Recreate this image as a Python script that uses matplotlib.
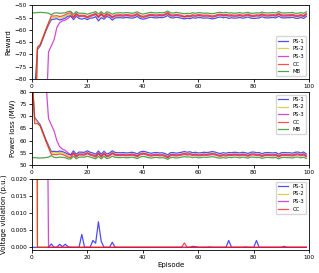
import numpy as np
import matplotlib.pyplot as plt

episodes = np.arange(100)

# power loss (MW) per episode
loss_ps1 = [85.0, 69.5, 68.0, 66.5, 63.5, 60.5, 58.0, 55.5, 55.6, 55.4, 55.7, 55.5,
            55.0, 54.4, 54.2, 55.8, 54.4, 55.3, 55.2, 55.2, 55.8, 55.2, 54.9, 54.4, 55.7, 54.4, 55.6, 54.5, 54.9, 55.8,
            55.1, 55.0, 55.0, 55.1, 54.9, 55.0, 55.2, 55.0, 54.5, 55.3, 55.6, 55.4, 55.0, 54.8, 55.0, 55.1, 54.9, 55.0, 54.7, 54.1,
            55.0, 55.1, 54.8, 55.0, 55.2, 55.5, 55.2, 55.4, 55.0, 55.2, 54.9, 55.0, 55.2, 55.1, 55.2, 55.5, 55.3, 54.9, 54.7, 55.0,
            54.8, 55.1, 55.0, 55.2, 55.1, 54.9, 55.2, 55.0, 54.7, 55.2, 55.3, 55.0, 55.1, 54.6, 55.0, 55.1, 55.0, 54.9, 55.1, 54.4,
            55.0, 55.1, 55.0, 55.0, 54.8, 55.2, 55.3, 54.9, 55.3, 54.5]
loss_ps2 = [88.0, 69.0, 67.5, 66.0, 63.0, 60.0, 57.5, 55.0, 55.0, 54.9, 55.1, 55.0,
            54.4, 53.8, 53.6, 55.2, 53.8, 54.7, 54.6, 54.6, 55.2, 54.6, 54.3, 53.8, 55.1, 53.8, 55.0, 53.9, 54.3, 55.2,
            54.5, 54.4, 54.4, 54.5, 54.3, 54.4, 54.6, 54.4, 53.9, 54.7, 55.0, 54.8, 54.4, 54.2, 54.4, 54.5, 54.3, 54.4, 54.1, 53.5,
            54.4, 54.5, 54.2, 54.4, 54.6, 54.9, 54.6, 54.8, 54.4, 54.6, 54.3, 54.4, 54.6, 54.5, 54.6, 54.9, 54.7, 54.3, 54.1, 54.4,
            54.2, 54.5, 54.4, 54.6, 54.5, 54.3, 54.6, 54.4, 54.1, 54.6, 54.7, 54.4, 54.5, 54.0, 54.4, 54.5, 54.4, 54.3, 54.5, 53.8,
            54.4, 54.5, 54.4, 54.4, 54.2, 54.6, 54.7, 54.3, 54.7, 53.9]
loss_ps3 = [120.0, 110.0, 100.0, 95.0, 90.0, 85.0, 69.0, 66.5, 64.0, 60.0, 57.5, 56.5,
            56.0, 55.0, 54.0, 55.0, 53.6, 54.5, 54.4, 54.4, 55.0, 54.4, 54.1, 53.6, 54.9, 53.6, 54.8, 53.7, 54.1, 55.0,
            54.3, 54.2, 54.2, 54.3, 54.1, 54.2, 54.4, 54.2, 53.7, 54.5, 54.8, 54.6, 54.2, 54.0, 54.2, 54.3, 54.1, 54.2, 53.9, 53.3,
            54.2, 54.3, 54.0, 54.2, 54.4, 54.7, 54.4, 54.6, 54.2, 54.4, 54.1, 54.2, 54.4, 54.3, 54.4, 54.7, 54.5, 54.1, 53.9, 54.2,
            54.0, 54.3, 54.2, 54.4, 54.3, 54.1, 54.4, 54.2, 53.9, 54.4, 54.5, 54.2, 54.3, 53.8, 54.2, 54.3, 54.2, 54.1, 54.3, 53.6,
            54.2, 54.3, 54.2, 54.2, 54.0, 54.4, 54.5, 54.1, 54.5, 53.7]
loss_cc = [90.0, 67.0, 67.0, 66.0, 63.0, 60.0, 57.0, 54.3, 54.3, 54.2, 54.5, 54.3,
           53.8, 53.2, 53.0, 54.6, 53.2, 54.1, 54.0, 54.0, 54.6, 54.0, 53.7, 53.2, 54.5, 53.2, 54.4, 53.3, 53.7, 54.6,
           53.9, 53.8, 53.8, 53.9, 53.7, 53.8, 54.0, 53.8, 53.3, 54.1, 54.4, 54.2, 53.8, 53.6, 53.8, 53.9, 53.7, 53.8, 53.5, 52.9,
           53.8, 53.9, 53.6, 53.8, 54.0, 54.3, 54.0, 54.2, 53.8, 54.0, 53.7, 53.8, 54.0, 53.9, 54.0, 54.3, 54.1, 53.7, 53.5, 53.8,
           53.6, 53.9, 53.8, 54.0, 53.9, 53.7, 54.0, 53.8, 53.5, 54.0, 54.1, 53.8, 53.9, 53.4, 53.8, 53.9, 53.8, 53.7, 53.9, 53.2,
           53.8, 53.9, 53.8, 53.8, 53.6, 54.0, 54.1, 53.7, 54.1, 53.3]
loss_mb = [53.0, 53.0, 52.9, 52.8, 52.9, 53.0, 53.2, 53.8, 53.1, 53.0, 53.2, 53.1,
           53.0, 52.5, 52.4, 53.6, 52.5, 53.2, 53.2, 53.2, 53.6, 53.2, 52.9, 52.5, 53.5, 52.5, 53.5, 52.6, 52.9, 53.6,
           53.1, 53.0, 53.0, 53.1, 52.9, 53.0, 53.2, 53.0, 52.6, 53.2, 53.5, 53.3, 53.0, 52.8, 53.0, 53.1, 52.9, 53.0, 52.8, 52.3,
           53.0, 53.1, 52.8, 53.0, 53.2, 53.4, 53.2, 53.3, 53.0, 53.2, 52.9, 53.0, 53.2, 53.1, 53.2, 53.4, 53.2, 52.9, 52.8, 53.0,
           52.8, 53.1, 53.0, 53.2, 53.1, 52.9, 53.2, 53.0, 52.8, 53.2, 53.2, 53.0, 53.1, 52.7, 53.0, 53.1, 53.0, 52.9, 53.1, 52.5,
           53.0, 53.1, 53.0, 53.0, 52.8, 53.2, 53.2, 52.9, 53.2, 52.6]

# reward per episode
rew_ps1 = [-130.0, -85.0, -68.0, -66.5, -63.5, -60.5, -58.0, -55.8, -55.6, -55.4, -55.9, -55.6,
           -55.2, -54.4, -54.2, -55.8, -54.4, -55.3, -55.6, -55.2, -55.8, -55.2, -55.1, -54.6, -56.3, -55.0, -55.6, -54.5, -54.9, -56.0,
           -55.1, -55.0, -55.0, -55.1, -54.9, -55.0, -55.2, -55.0, -54.5, -55.3, -55.6, -55.4, -55.0, -54.8, -55.0, -55.1, -54.9, -55.0, -54.7, -54.1,
           -55.0, -55.1, -54.8, -55.0, -55.2, -55.5, -55.2, -55.4, -55.0, -55.2, -54.9, -55.0, -55.2, -55.1, -55.2, -55.5, -55.3, -54.9, -54.7, -55.0,
           -54.8, -55.3, -55.0, -55.2, -55.1, -54.9, -55.2, -55.0, -54.7, -55.2, -55.3, -55.2, -55.1, -54.6, -55.0, -55.1, -55.0, -54.9, -55.1, -54.4,
           -55.0, -55.1, -55.0, -55.0, -54.8, -55.2, -55.3, -54.9, -55.3, -54.5]
rew_ps2 = [-140.0, -110.0, -67.5, -66.0, -63.0, -60.0, -57.5, -55.0, -55.0, -54.9, -55.1, -55.0,
           -54.4, -53.8, -53.6, -55.2, -53.8, -54.7, -54.6, -54.6, -55.2, -54.6, -54.3, -53.8, -55.1, -53.8, -55.0, -53.9, -54.3, -55.2,
           -54.5, -54.4, -54.4, -54.5, -54.3, -54.4, -54.6, -54.4, -53.9, -54.7, -55.0, -54.8, -54.4, -54.2, -54.4, -54.5, -54.3, -54.4, -54.1, -53.5,
           -54.4, -54.5, -54.2, -54.4, -54.6, -54.9, -54.6, -54.8, -54.4, -54.6, -54.3, -54.4, -54.6, -54.5, -54.6, -54.9, -54.7, -54.3, -54.1, -54.4,
           -54.2, -54.5, -54.4, -54.6, -54.5, -54.3, -54.6, -54.4, -54.1, -54.6, -54.7, -54.4, -54.5, -54.0, -54.4, -54.5, -54.4, -54.3, -54.5, -53.8,
           -54.4, -54.5, -54.4, -54.4, -54.2, -54.6, -54.7, -54.3, -54.7, -53.9]
rew_ps3 = [-150.0, -140.0, -130.0, -120.0, -110.0, -100.0, -69.0, -66.5, -64.0, -59.0, -57.0, -56.3,
           -56.0, -55.3, -54.3, -55.0, -53.6, -54.5, -54.4, -54.4, -55.0, -54.4, -54.1, -53.6, -54.9, -53.6, -54.8, -53.7, -54.1, -55.0,
           -54.3, -54.2, -54.2, -54.3, -54.1, -54.2, -54.4, -54.2, -53.7, -54.5, -54.8, -54.6, -54.2, -54.0, -54.2, -54.3, -54.1, -54.2, -53.9, -53.3,
           -54.2, -54.3, -54.0, -54.2, -54.4, -54.7, -54.4, -54.6, -54.2, -54.4, -54.1, -54.2, -54.4, -54.3, -54.4, -54.7, -54.5, -54.1, -53.9, -54.2,
           -54.0, -54.3, -54.2, -54.4, -54.3, -54.1, -54.4, -54.2, -53.9, -54.4, -54.5, -54.2, -54.3, -53.8, -54.2, -54.3, -54.2, -54.1, -54.3, -53.6,
           -54.2, -54.3, -54.2, -54.2, -54.0, -54.4, -54.5, -54.1, -54.5, -53.7]
rew_cc = [-150.0, -120.0, -67.0, -66.0, -63.0, -60.0, -57.0, -54.3, -54.3, -54.2, -54.5, -54.3,
          -53.8, -53.2, -53.0, -54.6, -53.2, -54.1, -54.0, -54.0, -54.6, -54.0, -53.7, -53.2, -54.5, -53.2, -54.4, -53.3, -53.7, -54.6,
          -53.9, -53.8, -53.8, -53.9, -53.7, -53.8, -54.0, -53.8, -53.3, -54.1, -54.4, -54.2, -53.8, -53.6, -53.8, -53.9, -53.7, -53.8, -53.5, -52.9,
          -53.8, -53.9, -53.6, -53.8, -54.0, -54.5, -54.0, -54.2, -53.8, -54.0, -53.7, -53.8, -54.0, -53.9, -54.0, -54.3, -54.1, -53.7, -53.5, -53.8,
          -53.6, -53.9, -53.8, -54.0, -53.9, -53.7, -54.0, -53.8, -53.5, -54.0, -54.1, -53.8, -53.9, -53.4, -53.8, -53.9, -53.8, -53.7, -53.9, -53.2,
          -53.8, -53.9, -53.8, -53.8, -53.6, -54.0, -54.1, -53.7, -54.1, -53.3]
rew_mb = [-53.0, -53.0, -52.9, -52.8, -52.9, -53.0, -53.2, -53.8, -53.1, -53.0, -53.2, -53.1,
          -53.0, -52.5, -52.4, -53.6, -52.5, -53.2, -53.2, -53.2, -53.6, -53.2, -52.9, -52.5, -53.5, -52.5, -53.5, -52.6, -52.9, -53.6,
          -53.1, -53.0, -53.0, -53.1, -52.9, -53.0, -53.2, -53.0, -52.6, -53.2, -53.5, -53.3, -53.0, -52.8, -53.0, -53.1, -52.9, -53.0, -52.8, -52.3,
          -53.0, -53.1, -52.8, -53.0, -53.2, -53.4, -53.2, -53.3, -53.0, -53.2, -52.9, -53.0, -53.2, -53.1, -53.2, -53.4, -53.2, -52.9, -52.8, -53.0,
          -52.8, -53.1, -53.0, -53.2, -53.1, -52.9, -53.2, -53.0, -52.8, -53.2, -53.2, -53.0, -53.1, -52.7, -53.0, -53.1, -53.0, -52.9, -53.1, -52.5,
          -53.0, -53.1, -53.0, -53.0, -52.8, -53.2, -53.2, -52.9, -53.2, -52.6]

# voltage violation (p.u.), sparse: episode -> value, rest zero
volt_ps1_ep = [7, 10, 11, 12, 13, 18, 22, 23, 24, 25, 29, 58, 59, 64, 71, 77, 81, 91]
volt_ps1_val = [0.001, 0.0009, 0.0002, 0.0009, 0.0002, 0.0038, 0.002, 0.0012, 0.0075, 0.0018, 0.0015,
                0.0003, 0.0002, 0.0001, 0.002, 0.0001, 0.002, 0.0003]
volt_ps2_ep = [0, 1]
volt_ps2_val = [0.4, 0.2]
volt_ps3_ep = [0, 1, 2, 3, 4, 5]
volt_ps3_val = [0.5, 0.4, 0.3, 0.3, 0.2, 0.1]
volt_cc_ep = [0, 1, 55]
volt_cc_val = [0.5, 0.3, 0.0013]


def full(ep_list, val_list):
    v = np.zeros(len(episodes))
    v[ep_list] = val_list
    return v


labels = ['PS-1', 'PS-2', 'PS-3', 'CC', 'MB']
colors = ['b', 'y', 'm', 'r', 'g']
fs = 4.2   # ticks
lfs = 5    # axis labels
gfs = 3.8  # legend
a = 0.7

plt.rcParams['font.size'] = fs

fig = plt.figure(figsize=(3.19, 2.73), dpi=100)
ax1 = fig.add_axes([0.100, 0.711, 0.869, 0.269])
ax2 = fig.add_axes([0.100, 0.396, 0.869, 0.267])
ax3 = fig.add_axes([0.100, 0.084, 0.869, 0.260])

for ys, c, l in zip([rew_ps1, rew_ps2, rew_ps3, rew_cc, rew_mb], colors, labels):
    ax1.plot(episodes, ys, c, alpha=a, lw=0.9, label=l)
ax1.set_ylim(-80, -50)
ax1.set_ylabel('Reward', fontsize=lfs)
ax1.legend(loc='lower right', fontsize=gfs)

for ys, c, l in zip([loss_ps1, loss_ps2, loss_ps3, loss_cc, loss_mb], colors, labels):
    ax2.plot(episodes, ys, c, alpha=a, lw=0.9, label=l)
ax2.set_ylim(50, 80)
ax2.set_ylabel('Power loss (MW)', fontsize=lfs)
ax2.legend(loc='upper right', fontsize=gfs)

volts = [full(volt_ps1_ep, volt_ps1_val), full(volt_ps2_ep, volt_ps2_val),
         full(volt_ps3_ep, volt_ps3_val), full(volt_cc_ep, volt_cc_val)]
for ys, c, l in zip(volts, colors[:4], labels[:4]):
    ax3.plot(episodes, ys, c, alpha=a, lw=0.9, label=l)
ax3.set_ylim(-0.0008, 0.02)
ax3.set_yticks([0, 0.005, 0.01, 0.015, 0.02])
ax3.yaxis.set_major_formatter(plt.FormatStrFormatter('%.3f'))
ax3.set_ylabel('Voltage violation (p.u.)', fontsize=lfs)
ax3.set_xlabel('Episode', fontsize=lfs, labelpad=1.5)
ax3.legend(loc='upper right', fontsize=gfs)

for ax in [ax1, ax2, ax3]:
    ax.set_xlim(0, 100)
    ax.tick_params(labelsize=fs, length=2, width=0.6, pad=1.5)
    ax.yaxis.labelpad = 2.5
    for s in ax.spines.values():
        s.set_linewidth(0.6)

plt.savefig('out.png', dpi=100)
